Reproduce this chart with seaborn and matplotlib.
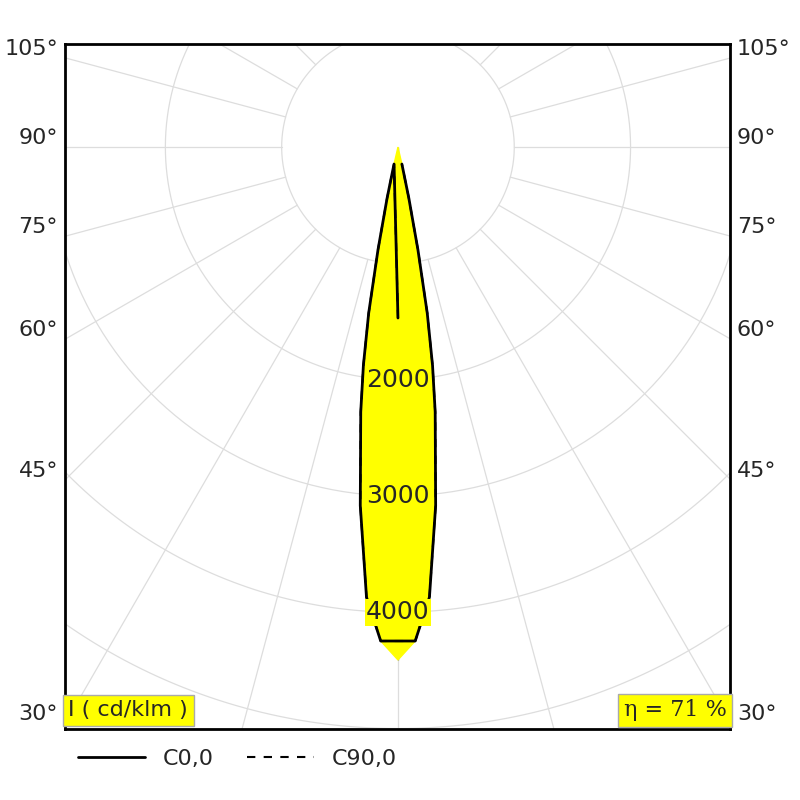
import numpy as np
import pandas as pd
import matplotlib.pyplot as plt
import seaborn as sns

# luminous intensity (cd/klm) vs angle from nadir
angles_deg = [0, 2, 4, 6, 8, 9, 10, 11, 12, 13, 15]
c0_values = [4410, 4250, 3880, 3100, 2300, 1900, 1450, 900, 450, 150, 0]
c90_values = [4410, 4250, 3880, 3100, 2300, 1900, 1450, 900, 450, 150, 0]
ring_labels = [2000, 3000, 4000]
angle_ticks = [30, 45, 60, 75, 90, 105]
eta_text = "η = 71 %"
unit_text = "I ( cd/klm )"

sns.set_theme(style="white")
plt.rcParams['font.family'] = ['DejaVu Sans']

def to_xy(ang, val):
    a = np.deg2rad(np.r_[-np.array(ang[::-1]), np.array(ang[1:])])
    v = np.r_[np.array(val[::-1]), np.array(val[1:])]
    return pd.DataFrame({"x": v * np.sin(a), "y": v * np.cos(a), "o": np.arange(len(a))})

fig = plt.figure(figsize=(8, 8), dpi=100)
ax = fig.add_axes([65 / 800, 71 / 800, 665 / 800, 685 / 800])
xmin, xmax, ymin, ymax = -2863, 2855, -886, 5004
ax.set_xlim(xmin, xmax)
ax.set_ylim(ymax, ymin)

# grid
t = np.linspace(0, 2 * np.pi, 400)
for r in range(1000, 8000, 1000):
    ax.plot(r * np.sin(t), r * np.cos(t), color="#dddddd", lw=0.9, zorder=1)
for a in range(0, 360, 15):
    ar = np.deg2rad(a)
    ax.plot([1000 * np.sin(ar), 9000 * np.sin(ar)], [1000 * np.cos(ar), 9000 * np.cos(ar)],
            color="#dddddd", lw=0.9, zorder=1)

d0 = to_xy(angles_deg, c0_values)
d90 = to_xy(angles_deg, c90_values)
ax.fill(d0["x"], d0["y"], color="#ffff00", zorder=2)
sns.lineplot(data=d0, x="x", y="y", sort=False, color="black", lw=2, ax=ax, zorder=3, label="C0,0")
sns.lineplot(data=d90, x="x", y="y", sort=False, color="black", lw=1.5, ls=(0, (4, 4)), ax=ax,
             zorder=3, label="C90,0")

for r in ring_labels:
    ax.text(0, r, str(r), ha="center", va="center", fontsize=18, zorder=4,
            bbox=dict(facecolor="#ffff00", edgecolor="none", pad=1))

for a in angle_ticks:
    y = 2863 / np.tan(np.deg2rad(a)) - 80
    ax.text(xmin - 60, y, f"{a}°", ha="right", va="center", fontsize=16, clip_on=False)
    ax.text(xmax + 60, y, f"{a}°", ha="left", va="center", fontsize=16, clip_on=False)

ax.text(xmin + 30, ymax - 160, unit_text, ha="left", va="center", fontsize=16, zorder=5,
        bbox=dict(facecolor="#ffff00", edgecolor="#aaaaaa", pad=4))
ax.text(xmax - 30, ymax - 160, eta_text, ha="right", va="center", fontsize=16, family="serif", zorder=5,
        bbox=dict(facecolor="#ffff00", edgecolor="#aaaaaa", pad=4))

ax.set_xticks([])
ax.set_yticks([])
ax.set_xlabel("")
ax.set_ylabel("")
for s in ax.spines.values():
    s.set_color("black")
    s.set_linewidth(2)

ax.legend(loc="upper left", bbox_to_anchor=(-0.01, -0.0), ncol=2, frameon=False, fontsize=16,
          handlelength=3, columnspacing=1.5)
fig.savefig("out.png", dpi=100)
